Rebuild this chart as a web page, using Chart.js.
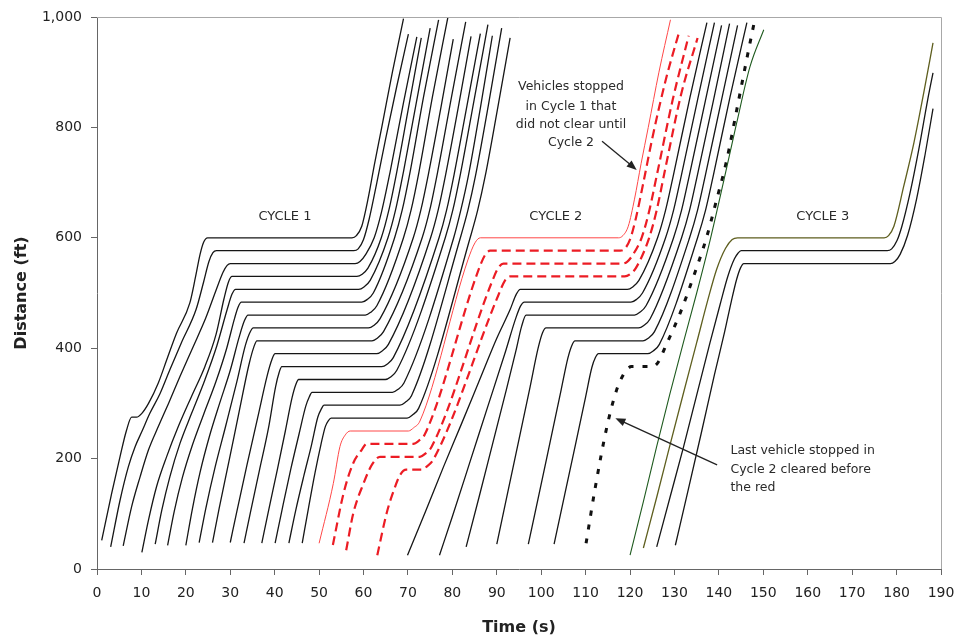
<!DOCTYPE html>
<html>
<head>
<meta charset="utf-8">
<script src="https://cdn.jsdelivr.net/npm/chart.js@4.4.1/dist/chart.umd.min.js"></script>
<style>
  html, body { margin: 0; padding: 0; background: #fff; }
  #wrap { width: 954px; height: 638px; }
</style>
</head>
<body>
<div id="wrap"><canvas id="tsChart" width="954" height="638"></canvas></div>
<script>
// axis ticks
const timeTicks = [0, 10, 20, 30, 40, 50, 60, 70, 80, 90, 100, 110, 120, 130, 140, 150, 160, 170, 180, 190];
const distanceTicks = [0, 200, 400, 600, 800, 1000];

// vehicle trajectories, [time (s), distance (ft)]
// cycle 1 queue, all cleared on the first green
const cycle1Vehicles = [
  [[1.06,52],[3.3,137],[5.2,204],[6.6,250],[7.8,275],[8.9,275],[10.1,282],[11.6,300],[13.8,337],[15.7,379],[17.9,427],[20.9,482],[22.2,530],[23.2,570],[24,592],[24.9,600],[57.4,600],[58.4,604],[59.6,621],[61,670],[62.5,735],[64.1,800],[66.5,900],[69,997]],
  [[3.08,40],[5.2,125],[7.05,185],[8.6,222],[10.1,249],[11.9,282],[14.2,318],[16.4,361],[19,410],[22.3,470],[24,520],[25.2,557],[26.1,573],[26.9,576.7],[57.8,576.7],[58.8,580],[60,597],[61.3,635],[63,700],[65,780],[67.5,875],[70.1,969]],
  [[5.9,42],[7.8,113],[9.7,167],[11.6,216],[13.8,258],[16.1,300],[18.7,349],[21.5,400],[24.5,455],[26.8,505],[28.4,538],[29.3,550],[30,553.3],[58.1,553.3],[59.2,557],[60.5,570],[62.4,600],[64,645],[66,720],[69,845],[72,964]],
  [[10.1,30],[11.6,89],[13.4,149],[15.7,204],[18.3,258],[21.3,313],[24.3,367],[26.8,425],[28.6,490],[29.6,520],[30.4,530],[58.5,530],[59.7,534],[61,545],[64,600],[65.7,650],[67.5,720],[70,830],[73,962]],
  [[13.1,45],[14.6,107],[16.4,167],[18.7,228],[21.3,282],[24.3,343],[27,405],[29.3,470],[30.4,498],[31.2,506.7],[58.9,506.7],[60.1,511],[61.5,523],[65.5,600],[67.2,650],[69,720],[72,850],[75,980]],
  [[15.9,43],[17.4,105],[19.2,165],[21.5,225],[24,280],[26.8,340],[29.2,400],[31,455],[31.8,475],[32.5,483.3],[59.6,483.3],[60.8,488],[62.2,500],[67,600],[68.7,650],[70.5,720],[73.5,855],[76.9,995]],
  [[20,43],[21.5,110],[23.2,175],[25.3,240],[27.6,300],[30,360],[32,420],[33.2,450],[34,460],[60.4,460],[61.6,465],[63,477],[69,600],[70.7,650],[72.5,720],[75.5,855],[79,1000]],
  [[23,48],[24.5,110],[26.6,185],[29,260],[31.5,340],[33.4,405],[34.4,428],[35.2,436.7],[61.1,436.7],[62.3,441],[63.7,453],[71.2,600],[72.9,650],[74.6,715],[77.4,835],[80.2,960]],
  [[26,48],[27.5,110],[29.7,195],[32,285],[34.2,370],[35.3,402],[36,413.3],[61.9,413.3],[63.1,418],[64.5,430],[73.2,600],[74.9,650],[76.7,720],[79.8,855],[83,991]],
  [[30,48],[31.5,105],[33.8,190],[36.2,275],[38.3,350],[39.4,380],[40.1,390],[63,390],[64.2,395],[65.6,407],[75.1,600],[76.8,650],[78.5,715],[81.3,835],[84.2,965]],
  [[33.1,47],[34.6,105],[36.6,180],[38.6,255],[40.2,330],[41,356],[41.6,366.7],[64.1,366.7],[65.3,371],[66.7,383],[77,600],[78.7,650],[80.4,715],[83.3,840],[86.3,970]],
  [[37.1,47],[38.6,105],[40.6,180],[42.4,250],[43.9,310],[44.7,333],[45.4,343.3],[64.9,343.3],[66.1,348],[67.5,360],[78.4,600],[80.1,650],[81.8,715],[84.9,850],[88,986]],
  [[40.1,47],[41.6,105],[43.6,180],[45.5,245],[47,295],[47.8,312],[48.4,320],[66.5,320],[67.7,325],[69.1,337],[80.3,600],[81.9,650],[83.6,712],[86.3,835],[89,966]],
  [[43.2,47],[44.7,105],[46.6,170],[48.3,225],[49.7,275],[50.5,290],[51.1,296.7],[68.2,296.7],[69.4,302],[70.8,314],[81.8,600],[83.5,650],[85.2,712],[88.1,840],[91.1,980]],
  [[46.2,47],[47.6,110],[49.1,175],[50.4,225],[51.4,258],[52.1,269],[52.7,273.3],[69.8,273.3],[71,279],[72.4,291],[84,600],[85.7,650],[87.4,712],[90.2,835],[93,962]]
];

// stopped in cycle 1, did not clear until cycle 2
const firstUncleared = [[50,46.6],[53.2,155],[54.7,222],[55.9,243],[57,250],[70.1,250],[71.3,256],[72.7,268],[83.5,560],[85.1,591],[86.3,600],[117.4,600],[118.4,604],[119.6,621],[121,670],[122.5,735],[124.1,800],[126.5,900],[129.1,995]];
const otherUncleared = [
  [[53.1,43.5],[55.5,137],[57.7,192],[59.6,216],[60.7,226.7],[71.2,226.7],[72.4,232],[73.8,244],[85.8,540],[87.3,568],[88.5,576.7],[117.8,576.7],[118.8,580],[120,597],[121.3,635],[123,700],[125,780],[128,885],[131.2,977]],
  [[56.1,34],[57.7,101],[60,155],[61.9,189],[63.7,203.3],[72.7,203.3],[73.9,209],[75.3,221],[88.8,518],[90.3,545],[91.5,553.3],[118.3,553.3],[119.4,557],[120.7,570],[122.6,600],[124.2,645],[126.2,720],[129.6,850],[133.2,966]],
  [[63.1,25],[65.2,101],[67.1,149],[68.2,170],[69.6,180],[73.1,180],[74.3,186],[75.7,198],[90.3,495],[91.8,522],[93,530],[118.8,530],[120,534],[121.3,545],[124.3,600],[126,650],[127.8,720],[131.5,860],[135.2,962]]
];

// cycle 2 queue
const cycle2Vehicles = [
  [[69.9,25],[74,105],[78,185],[82,262],[86,340],[90,418],[93,470],[94.4,498],[95.3,506.7],[119.4,506.7],[120.6,511],[122,523],[126.2,600],[128,650],[129.8,715],[133.5,855],[137.3,990]],
  [[77.1,25],[80,95],[84,195],[88,295],[92,395],[94.3,455],[95.4,477],[96.2,483.3],[120.2,483.3],[121.4,488],[122.8,500],[128,600],[129.8,650],[131.6,715],[135.2,850],[139,990]],
  [[83.1,40],[86,130],[89,225],[92,320],[94.3,395],[95.6,440],[96.6,460],[121,460],[122.2,465],[123.6,477],[129.8,600],[131.6,650],[133.4,715],[137,850],[140.6,985]],
  [[90,45],[92.5,140],[95,235],[97.5,330],[99.3,400],[100.3,428],[101.1,436.7],[121.9,436.7],[123.1,441],[124.5,453],[131.6,600],[133.4,650],[135.2,715],[138.8,850],[142.4,988]],
  [[97.1,45],[99.5,135],[102,230],[104.5,325],[106,382],[106.9,405],[107.6,413.3],[122.9,413.3],[124.1,418],[125.5,430],[133.4,600],[135.2,650],[137,715],[140.6,850],[144.2,985]],
  [[102.9,45],[105.3,135],[107.7,225],[110,312],[111.4,365],[112.2,383],[112.9,390],[124,390],[125.2,395],[126.6,407],[135.2,600],[137,650],[138.8,715],[142.5,855],[146.3,990]]
];
const lastCycle2Vehicle = [[110.1,46.6],[112.2,149],[114.8,258],[117,325],[118.5,352],[119.5,363],[120.3,366.7],[124.9,366.7],[126.1,372],[128.3,409],[131.3,464],[134.3,530],[137.2,600],[139.2,660],[141.8,742],[144.1,835],[146.3,925],[148,992]];

// unstopped vehicle, then the cycle 3 queue
const throughVehicle = [[120,25],[123,122],[126,222],[129,318],[132,410],[135,500],[138,595],[141,700],[144,808],[147,910],[150.1,977]];
const cycle3Lead = [[123,38],[126,130],[129,225],[132,318],[135,410],[137.5,487],[139.5,543],[141.5,581],[143,597],[144.2,600],[177.2,600],[178.2,604],[179.4,621],[181.6,693],[183.9,772],[186.1,862],[188.2,953]];
const cycle3Vehicles = [
  [[126,40],[129,130],[132,220],[135,315],[138,410],[140.3,480],[142,530],[143.5,562],[144.3,572],[145,576.7],[177.9,576.7],[178.9,580],[180.1,595],[181.2,621],[183,680],[185,760],[187,850],[188.2,899]],
  [[130.2,43],[133,140],[136,245],[139,352],[141.3,430],[142.8,485],[144,525],[144.9,546],[145.6,553.3],[178.6,553.3],[179.6,557],[180.8,570],[182.5,605],[184.5,670],[186.4,750],[188.2,834]]
];

// annotation texts and anchor points (time, distance)
const cycleLabels = ['CYCLE 1', 'CYCLE 2', 'CYCLE 3'];
const cycleLabelTimes = [42.3, 103.3, 163.4];
const cycleLabelDistance = 638;
const stoppedNote = ['Vehicles stopped', 'in Cycle 1 that', 'did not clear until', 'Cycle 2'];
const stoppedNoteAt = [106.7, [873, 838, 805, 772]];
const stoppedArrow = [[113.7, 775], [121.5, 723]];
const lastNote = ['Last vehicle stopped in', 'Cycle 2 cleared before', 'the red'];
const lastNoteAt = [142.6, [214.5, 179.5, 148]];
const lastArrow = [[139.6, 188.6], [116.7, 273]];

Chart.defaults.font.family = '"DejaVu Sans", Verdana, sans-serif';

const datasets = [];
function addPath(points, style) {
  datasets.push(Object.assign({
    data: points.map(p => ({ x: p[0], y: p[1] })),
    showLine: true,
    fill: false,
    pointRadius: 0,
    pointHoverRadius: 0,
    cubicInterpolationMode: 'monotone'
  }, style));
}

const black = { borderColor: '#161616', borderWidth: 1.3 };
cycle1Vehicles.forEach(p => addPath(p, black));
cycle2Vehicles.forEach(p => addPath(p, black));
cycle3Vehicles.forEach(p => addPath(p, black));
addPath(throughVehicle, { borderColor: '#1e5a1e', borderWidth: 1.1 });
addPath(cycle3Lead, { borderColor: '#5e5e1e', borderWidth: 1.3 });
addPath(firstUncleared, { borderColor: '#ff4848', borderWidth: 1 });
otherUncleared.forEach(p => addPath(p, { borderColor: '#ec1c24', borderWidth: 2.2, borderDash: [9, 5] }));
addPath(lastCycle2Vehicle, { borderColor: '#111', borderWidth: 3, borderDash: [5, 9] });

function arrow(ctx, x0, y0, x1, y1) {
  const a = Math.atan2(y1 - y0, x1 - x0);
  ctx.beginPath();
  ctx.moveTo(x0, y0);
  ctx.lineTo(x1 - 8 * Math.cos(a), y1 - 8 * Math.sin(a));
  ctx.stroke();
  ctx.beginPath();
  ctx.moveTo(x1, y1);
  ctx.lineTo(x1 - 10 * Math.cos(a) + 4 * Math.sin(a), y1 - 10 * Math.sin(a) - 4 * Math.cos(a));
  ctx.lineTo(x1 - 10 * Math.cos(a) - 4 * Math.sin(a), y1 - 10 * Math.sin(a) + 4 * Math.cos(a));
  ctx.closePath();
  ctx.fill();
}

const notes = {
  id: 'notes',
  afterDraw(chart) {
    const { ctx, chartArea: a, scales: { x, y } } = chart;
    const px = t => x.getPixelForValue(t);
    const py = d => y.getPixelForValue(d);
    ctx.save();
    // grey frame on top and right of the plot
    ctx.strokeStyle = '#a8a8a8';
    ctx.lineWidth = 1;
    ctx.beginPath();
    ctx.moveTo(a.left, a.top + 0.5);
    ctx.lineTo(a.right + 0.5, a.top + 0.5);
    ctx.lineTo(a.right + 0.5, a.bottom);
    ctx.stroke();

    ctx.fillStyle = '#2a2a2a';
    ctx.textBaseline = 'middle';
    ctx.textAlign = 'center';
    ctx.font = '13px "DejaVu Sans"';
    cycleLabels.forEach((txt, i) => ctx.fillText(txt, px(cycleLabelTimes[i]), py(cycleLabelDistance)));

    ctx.font = '12.5px "DejaVu Sans"';
    stoppedNote.forEach((txt, i) => ctx.fillText(txt, px(stoppedNoteAt[0]), py(stoppedNoteAt[1][i])));
    ctx.textAlign = 'left';
    lastNote.forEach((txt, i) => ctx.fillText(txt, px(lastNoteAt[0]), py(lastNoteAt[1][i])));

    ctx.strokeStyle = '#222';
    ctx.fillStyle = '#222';
    ctx.lineWidth = 1.3;
    arrow(ctx, px(stoppedArrow[0][0]), py(stoppedArrow[0][1]), px(stoppedArrow[1][0]), py(stoppedArrow[1][1]));
    arrow(ctx, px(lastArrow[0][0]), py(lastArrow[0][1]), px(lastArrow[1][0]), py(lastArrow[1][1]));
    ctx.restore();
  }
};

new Chart(document.getElementById('tsChart'), {
  type: 'scatter',
  data: { datasets: datasets },
  plugins: [notes],
  options: {
    responsive: false,
    animation: false,
    devicePixelRatio: 1,
    layout: { padding: { top: 17, right: 13, left: 0, bottom: 0 } },
    plugins: { legend: { display: false }, tooltip: { enabled: false } },
    scales: {
      x: {
        type: 'linear',
        min: 0,
        max: 190,
        afterBuildTicks: s => { s.ticks = timeTicks.map(v => ({ value: v })); },
        afterFit: s => { s.height = 69; s.paddingLeft = 0; s.paddingRight = 0; },
        grid: { drawOnChartArea: false, drawTicks: true, tickLength: 6, color: '#666' },
        border: { color: '#666', width: 1 },
        ticks: { font: { size: 14 }, color: '#222', padding: 10, maxRotation: 0, autoSkip: false },
        title: { display: true, text: 'Time (s)', color: '#222', font: { size: 16, weight: 'bold' }, padding: { top: 0, bottom: 1 } }
      },
      y: {
        type: 'linear',
        min: 0,
        max: 1000,
        afterBuildTicks: s => { s.ticks = distanceTicks.map(v => ({ value: v })); },
        afterFit: s => { s.width = 97; s.paddingTop = 0; s.paddingBottom = 0; },
        grid: { drawOnChartArea: false, drawTicks: true, tickLength: 6, color: '#666' },
        border: { color: '#666', width: 1 },
        ticks: { font: { size: 14 }, color: '#222', padding: 9, callback: v => v.toLocaleString('en-US') },
        title: { display: true, text: 'Distance (ft)', color: '#222', font: { size: 16, weight: 'bold' }, padding: { top: 12, bottom: 0 } }
      }
    }
  }
});
</script>
</body>
</html>
